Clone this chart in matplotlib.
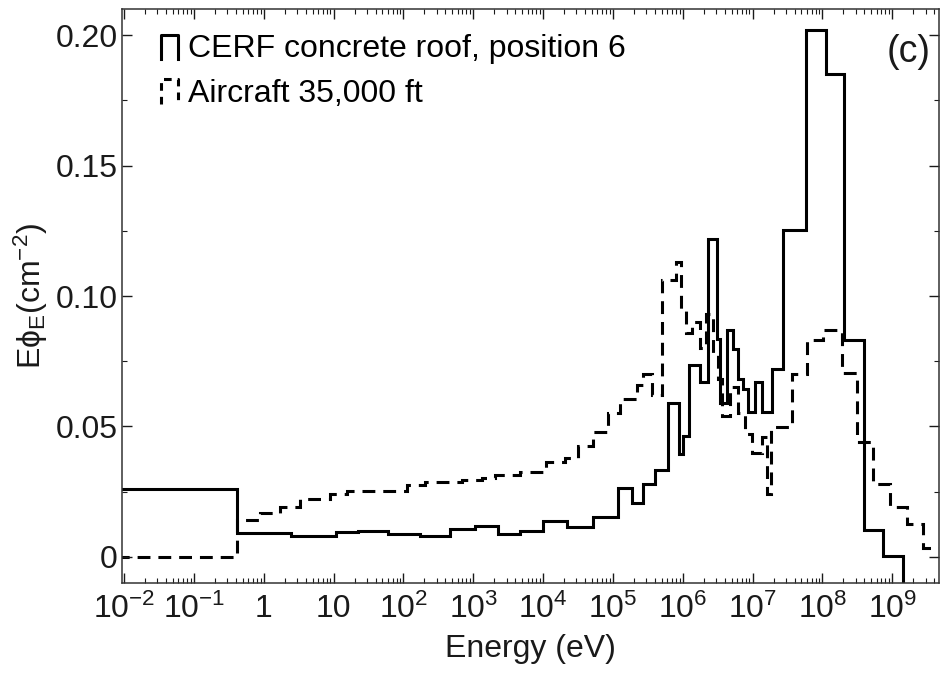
import numpy as np
import matplotlib
matplotlib.use("Agg")
import matplotlib.pyplot as plt
from matplotlib.lines import Line2D
from matplotlib.legend_handler import HandlerLine2D
from matplotlib.ticker import FixedLocator, LogLocator, NullFormatter, MultipleLocator

# bin edges are log10(energy / eV)
cerf_log_edges = [-3.0, -0.39, 0.39, 1.03, 1.35, 1.78, 2.24, 2.67, 3.02, 3.35,
                  3.67, 4.00, 4.34, 4.71, 5.07, 5.27, 5.43, 5.60, 5.79, 5.95,
                  6.00, 6.09, 6.25, 6.36, 6.49, 6.53, 6.63, 6.72, 6.79, 6.86,
                  6.93, 7.03, 7.14, 7.28, 7.44, 7.77, 8.05, 8.31, 8.60, 8.87,
                  9.16, 10.5]
cerf_flux = [0.026, 0.0090, 0.0080, 0.0096, 0.0099, 0.0088, 0.0082, 0.0106, 0.0117, 0.0087,
             0.0098, 0.0138, 0.0116, 0.0152, 0.0263, 0.0205, 0.0278, 0.0335, 0.0588, 0.0393,
             0.0462, 0.0735, 0.0670, 0.1220, 0.0837, 0.0588, 0.0870, 0.0795, 0.0680, 0.0645,
             0.0557, 0.0672, 0.0557, 0.0722, 0.1253, 0.2020, 0.1850, 0.0830, 0.0105, 0.0005,
             -0.02]  # last bin: line runs off the bottom of the axes

aircraft_log_edges = [-3.0, -0.39, -0.06, 0.23, 0.52, 0.95, 1.19, 2.05, 2.31, 2.84,
                      3.12, 3.31, 3.67, 4.04, 4.31, 4.50, 4.71, 4.93, 5.10, 5.34,
                      5.43, 5.56, 5.70, 5.90, 5.97, 6.05, 6.13, 6.25, 6.33, 6.43,
                      6.50, 6.56, 6.68, 6.79, 6.89, 6.99, 7.14, 7.21, 7.26, 7.56,
                      7.78, 8.01, 8.28, 8.50, 8.73, 8.97, 9.21, 9.44, 10.5]
aircraft_flux = [0.0, 0.0142, 0.0168, 0.0193, 0.0223, 0.0243, 0.0252, 0.0277, 0.0289, 0.0296,
                 0.0302, 0.0315, 0.0327, 0.0362, 0.0378, 0.0426, 0.0480, 0.0550, 0.0607, 0.0660,
                 0.0700, 0.0620, 0.1060, 0.1130, 0.0950, 0.0860, 0.0900, 0.0800, 0.0930, 0.0780,
                 0.0680, 0.0540, 0.0650, 0.0550, 0.0470, 0.0400, 0.0460, 0.0240, 0.0497, 0.0700,
                 0.0833, 0.0868, 0.0703, 0.0442, 0.0280, 0.0193, 0.0128, 0.0035]

series_labels = ["CERF concrete roof, position 6", "Aircraft 35,000 ft"]

xtick_exps = list(range(-2, 10))
ytick_vals = [0, 0.05, 0.10, 0.15, 0.20]
ytick_labels = ["0", "0.05", "0.10", "0.15", "0.20"]


def exp_label(e):
    if e == 0:
        return "1"
    if e == 1:
        return "10"
    return r"$\mathregular{10^{%d}}$" % e


class HandlerStep(HandlerLine2D):
    # little step shaped legend key like in the original figure
    def create_artists(self, legend, orig_handle, xdescent, ydescent,
                       width, height, fontsize, trans):
        x0 = -xdescent
        x1 = x0 + width
        y0 = -ydescent - 0.15 * height
        y1 = -ydescent + 1.05 * height
        line = Line2D([x0, x0, x1, x1], [y0, y1, y1, y0])
        self.update_prop(line, orig_handle, legend)
        line.set_transform(trans)
        return [line]


plt.rcParams['font.family'] = ['Liberation Sans', 'DejaVu Sans']
plt.rcParams['mathtext.fontset'] = 'custom'
plt.rcParams['mathtext.rm'] = 'Liberation Sans'
plt.rcParams['mathtext.it'] = 'Liberation Sans:italic'
plt.rcParams['mathtext.bf'] = 'Liberation Sans:bold'

fs = 23
fg = '#1a1a1a'

fig = plt.figure(figsize=(9.43, 6.83), dpi=100)
ax = fig.add_axes([122 / 943, 1 - 583 / 683, 817 / 943, 574 / 683])

lw = 2.2
s1 = ax.stairs(cerf_flux, 10 ** np.array(cerf_log_edges), baseline=None,
               color='black', linewidth=lw, label=series_labels[0])
s2 = ax.stairs(aircraft_flux, 10 ** np.array(aircraft_log_edges), baseline=None,
               color='black', linewidth=lw, linestyle=(0, (4.2, 2.6)),
               label=series_labels[1])

ax.set_xscale('log')
ax.set_xlim(10 ** -2.03, 10 ** 9.67)
ax.set_ylim(-0.01, 0.21)

ax.xaxis.set_major_locator(FixedLocator([10.0 ** e for e in xtick_exps]))
ax.set_xticks([10.0 ** e for e in xtick_exps], [exp_label(e) for e in xtick_exps])
ax.xaxis.set_minor_locator(LogLocator(base=10, subs=np.arange(2, 10), numticks=30))
ax.xaxis.set_minor_formatter(NullFormatter())
ax.set_yticks(ytick_vals, ytick_labels)
ax.yaxis.set_minor_locator(MultipleLocator(0.025))

ax.tick_params(which='both', direction='in', top=True, right=True, colors=fg)
ax.tick_params(which='major', length=7, width=1.0, labelsize=fs)
ax.tick_params(which='minor', length=3.5, width=0.8)
ax.tick_params(axis='x', which='major', pad=8)
ax.tick_params(axis='y', which='major', pad=3)
for sp in ax.spines.values():
    sp.set_linewidth(1.1)
    sp.set_edgecolor('#333333')

ax.set_xlabel('Energy (eV)', fontsize=fs, color=fg, labelpad=6)
ax.set_ylabel(r'E$\mathregular{\phi_E}$(cm$^\mathregular{-2}$)', fontsize=fs,
              color=fg, labelpad=4)

leg_line1 = Line2D([], [], color='black', linewidth=lw)
leg_line2 = Line2D([], [], color='black', linewidth=lw, linestyle=(0, (2.5, 2.0)))
ax.legend([leg_line1, leg_line2], series_labels, loc='upper left',
          bbox_to_anchor=(0.032, 0.978), frameon=False, fontsize=fs,
          handlelength=0.55, handleheight=0.6, handletextpad=0.3,
          labelspacing=0.45, borderaxespad=0,
          handler_map={Line2D: HandlerStep()})

ax.text(0.99, 0.925, '(c)', transform=ax.transAxes, fontsize=fs + 4,
        ha='right', va='center', color=fg)

fig.savefig('out.png', dpi=100)
